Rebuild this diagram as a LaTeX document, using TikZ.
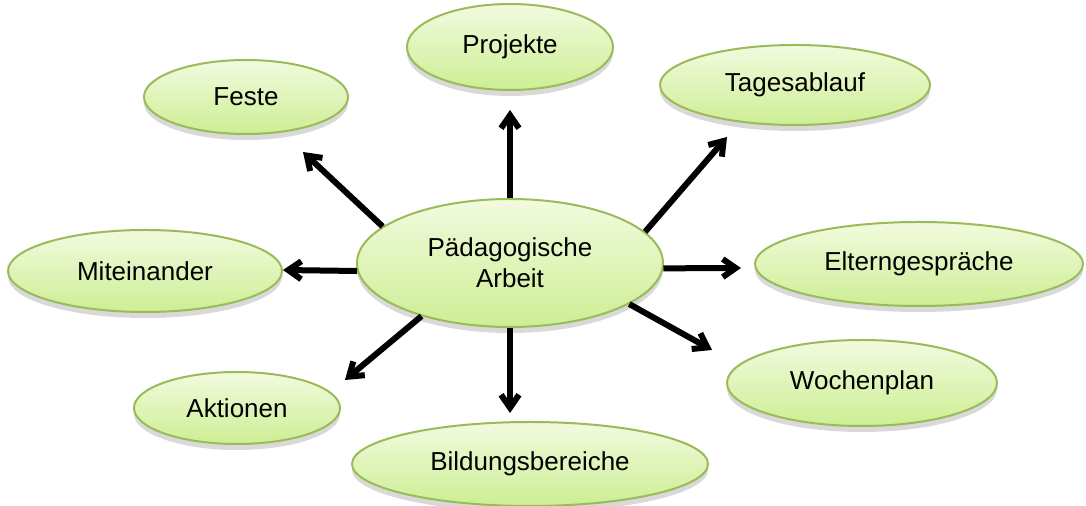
\documentclass[tikz,border=0pt]{standalone}
\usepackage{fontspec}
\setmainfont{Liberation Sans}
\usetikzlibrary{shapes.geometric,arrows.meta,shadows}
\definecolor{bubtop}{HTML}{F2FBDF}
\definecolor{bubbot}{HTML}{CDEE94}
\definecolor{bubline}{HTML}{9BBB59}
\tikzset{
  bub/.style={ellipse, draw=bubline, line width=1pt, top color=bubtop, bottom color=bubbot,
    inner sep=0pt, align=center, font=\fontsize{13}{15.5}\selectfont, text=black,
    drop shadow={shadow xshift=0pt, shadow yshift=-3pt, opacity=0.25, fill=black!60}},
  arr/.style={line width=3pt, -{Straight Barb[length=6.5pt,width=9pt]}, black}
}
\begin{document}
\begin{tikzpicture}[x=0.5pt,y=-0.5pt]
\useasboundingbox (0,0) rectangle (1086,506);
\node[bub, minimum width=153pt, minimum height=64pt] (c) at (510,263) {Pädagogische\\Arbeit};
\node[bub, minimum width=103pt, minimum height=43pt] (proj) at (510,47) {Projekte};
\node[bub, minimum width=102pt, minimum height=37pt] (feste) at (246,97) {Feste};
\node[bub, minimum width=135pt, minimum height=40pt] (tag) at (795,85) {Tagesablauf};
\node[bub, minimum width=137pt, minimum height=41pt] (mit) at (145,271) {Miteinander};
\node[bub, minimum width=164pt, minimum height=42pt] (elt) at (919,264) {Elterngespräche};
\node[bub, minimum width=135pt, minimum height=43pt] (woc) at (862,383) {Wochenplan};
\node[bub, minimum width=103pt, minimum height=36pt] (akt) at (237,408) {Aktionen};
\node[bub, minimum width=178pt, minimum height=42pt] (bil) at (530,464) {Bildungsbereiche};
\coordinate (eproj) at (510,110);
\coordinate (efeste) at (303,152);
\coordinate (etag) at (727,137);
\coordinate (emit) at (283,270);
\coordinate (eelt) at (741,268);
\coordinate (ewoc) at (712,350);
\coordinate (eakt) at (345,380);
\coordinate (ebil) at (510,413);
\draw[arr] (c.90) -- (eproj);
\draw[arr] (c.164) -- (efeste);
\draw[arr] (c.13) -- (etag);
\draw[arr] (c.183) -- (emit);
\draw[arr] (c.-2) -- (eelt);
\draw[arr] (c.-19) -- (ewoc);
\draw[arr] (c.211) -- (eakt);
\draw[arr] (c.270) -- (ebil);
\end{tikzpicture}
\end{document}
